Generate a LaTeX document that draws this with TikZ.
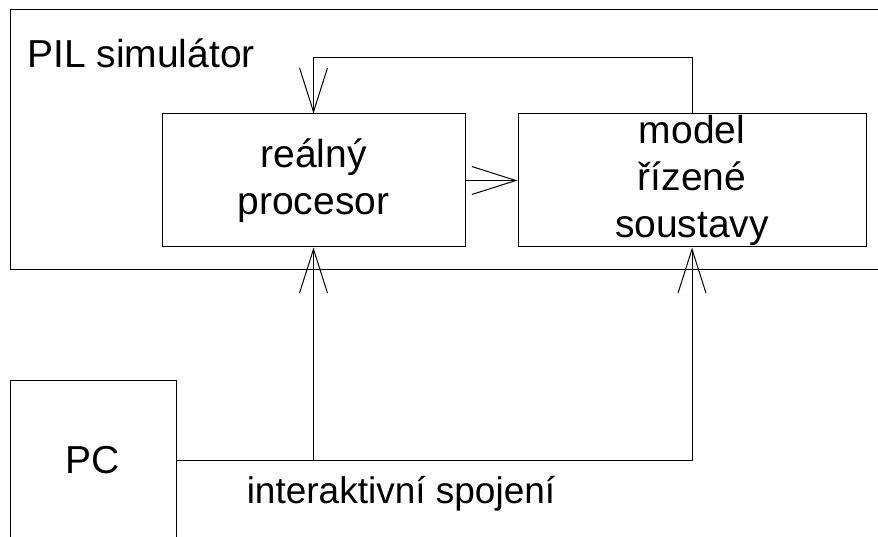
\documentclass[tikz,border=0pt]{standalone}
\usepackage{fontspec}
\setmainfont{Liberation Sans}
\usetikzlibrary{arrows.meta}
\begin{document}
\begin{tikzpicture}[x=1pt,y=-1pt,
  every node/.style={font=\fontsize{39}{47}\selectfont},
  blockbox/.style={draw, line width=1pt, inner sep=0pt, align=center},
  conn/.style={draw, line width=1pt},
  barb/.style={-{Straight Barb[length=44pt,width=28pt,line width=1pt]}}]
\useasboundingbox (0,0) rectangle (878,537);
% outer PIL simulator frame (runs off the right edge)
\draw[line width=1pt] (890,10) -- (10,10) -- (10,270) -- (890,270);
\node[anchor=base west, inner sep=0pt] (pil) at (27,68) {PIL simulátor};
% blocks
\node[blockbox, minimum width=303pt, minimum height=133pt] (proc) at (313.5,180.5) {reálný\\procesor};
\node[blockbox, minimum width=348pt, minimum height=133pt] (model) at (692,180.5) {model\\řízené\\soustavy};
\node[blockbox, minimum width=166pt, minimum height=160pt] (pc) at (93,460) {PC};
% connectors
\draw[conn, barb] (proc.east) -- (model.west);
\coordinate (fbR) at (692,58);
\coordinate (fbL) at (proc.north |- fbR);
\draw[conn, barb] (model.north) -- (fbR) -- (fbL) -- (proc.north);
\coordinate (bus) at (692,460);
\coordinate (branch) at (proc.south |- pc.east);
\draw[conn, barb] (pc.east) -- (bus) -- (model.south);
\draw[conn, barb] (branch) -- (proc.south);
\node[anchor=base, inner sep=0pt, font=\fontsize{37}{45}\selectfont] (lbl) at (401,503) {interaktivní spojení};
\end{tikzpicture}
\end{document}
